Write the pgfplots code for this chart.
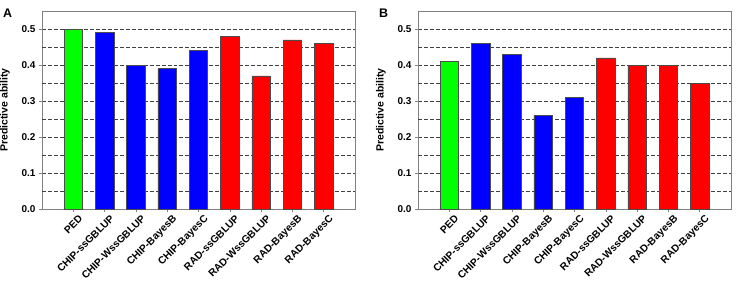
\documentclass[border=0pt]{standalone}
\usepackage{pgfplots}
\pgfplotsset{compat=1.18}
\usepackage{fontspec}
\setmainfont{Liberation Sans}
\definecolor{barG}{RGB}{0,255,0}
\definecolor{barB}{RGB}{0,0,255}
\definecolor{barR}{RGB}{255,0,0}
\definecolor{frame}{RGB}{128,128,128}
\pgfplotsset{
  panel/.style={
    width=313bp, height=198bp, scale only axis,
    xmin=-1, xmax=9, ymin=0, ymax=0.55,
    ytick={0,0.1,...,0.5},
    extra y ticks={0.05,0.15,0.25,0.35,0.45},
    extra y tick labels={},
    extra y tick style={grid=major, major grid style={dash pattern=on 4pt off 2pt, black!75, line width=0.6pt}, tick style={draw=none}},
    ymajorgrids, major grid style={dash pattern=on 4pt off 2pt, black!75, line width=0.6pt},
    yticklabel style={font=\fontsize{10}{11}\selectfont\bfseries, /pgf/number format/fixed, /pgf/number format/fixed zerofill, /pgf/number format/precision=1, /pgf/number format/assume math mode=true},
    yticklabel={\bfseries\pgfmathprintnumber{\tick}},
    xtick={0,...,8},
    xticklabels={PED,CHIP-ssGBLUP,CHIP-WssGBLUP,CHIP-BayesB,CHIP-BayesC,RAD-ssGBLUP,RAD-WssGBLUP,RAD-BayesB,RAD-BayesC},
    xticklabel style={rotate=45, anchor=north east, font=\fontsize{10.3}{11}\selectfont\bfseries, inner sep=1pt, xshift=3pt, yshift=-4pt},
    tick align=outside, major tick length=3bp,
    tick style={frame, line width=0.6pt},
    xtick pos=bottom, ytick pos=left,
    axis line style={frame, line width=0.8pt},
    ylabel={\bfseries Predictive ability},
    ylabel style={font=\fontsize{10.5}{11}\selectfont, yshift=-1pt},
    ybar, bar width=0.59, bar shift=0pt,
  }
}
\begin{document}
\begin{tikzpicture}
\path[use as bounding box] (-42bp,-73bp) rectangle (695bp,209bp);
\begin{axis}[panel]
\addplot[fill=barG, draw=black!70, line width=0.5pt] coordinates {(0,0.50)};
\addplot[fill=barB, draw=black!70, line width=0.5pt] coordinates {(1,0.49) (2,0.40) (3,0.39) (4,0.44)};
\addplot[fill=barR, draw=black!70, line width=0.5pt] coordinates {(5,0.48) (6,0.37) (7,0.47) (8,0.46)};
\end{axis}
\node[anchor=north west, inner sep=0pt, font=\fontsize{12.5}{13}\selectfont\bfseries] at (-39bp,200bp) {A};
\begin{axis}[panel, xshift=376bp]
\addplot[fill=barG, draw=black!70, line width=0.5pt] coordinates {(0,0.41)};
\addplot[fill=barB, draw=black!70, line width=0.5pt] coordinates {(1,0.46) (2,0.43) (3,0.26) (4,0.31)};
\addplot[fill=barR, draw=black!70, line width=0.5pt] coordinates {(5,0.42) (6,0.40) (7,0.40) (8,0.35)};
\end{axis}
\node[anchor=north west, inner sep=0pt, font=\fontsize{12.5}{13}\selectfont\bfseries] at (337bp,200bp) {B};
\end{tikzpicture}
\end{document}
